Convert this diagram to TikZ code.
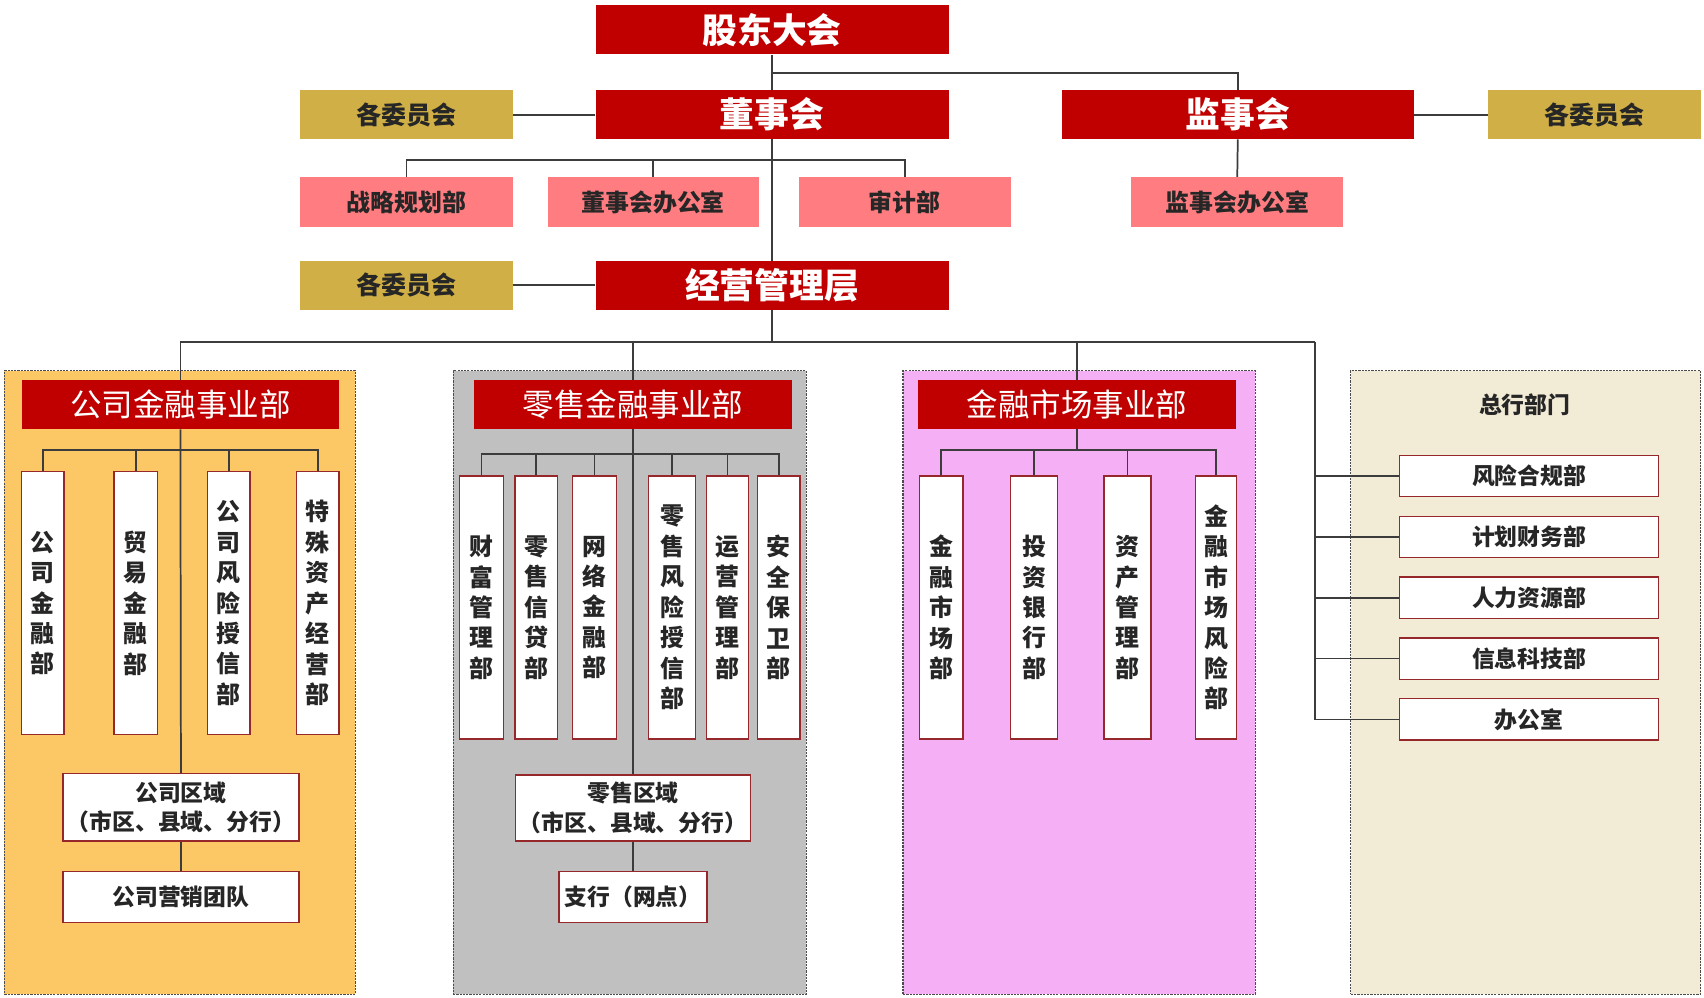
\documentclass[tikz,border=0pt]{standalone}
\usepackage{fontspec}
\setmainfont{Noto Sans CJK SC}
\definecolor{dred}{RGB}{192,0,0}
\definecolor{gold}{RGB}{208,176,70}
\definecolor{pinkbox}{RGB}{255,124,128}
\definecolor{orangefill}{RGB}{252,200,102}
\definecolor{grayfill}{RGB}{192,192,192}
\definecolor{magfill}{RGB}{245,176,245}
\definecolor{beigefill}{RGB}{242,235,214}
\definecolor{bxborder}{RGB}{150,40,44}
\definecolor{lnc}{RGB}{60,60,60}
\begin{document}
\begin{tikzpicture}[x=1pt,y=-1pt,
  topbox/.style={fill=dred,draw=none,text=white,font=\fontsize{32}{34}\selectfont\bfseries,inner sep=0pt},
  goldbox/.style={fill=gold,draw=none,text=black!85,font=\fontsize{23}{25}\selectfont\bfseries,inner sep=0pt,minimum width=196pt,minimum height=45pt},
  pinkb/.style={fill=pinkbox,draw=none,text=black!85,font=\fontsize{22}{24}\selectfont\bfseries,inner sep=0pt,minimum width=195pt,minimum height=46pt},
  secbox/.style={draw=black!70,dashed,dash pattern=on 2pt off 1pt,line width=1.1pt},
  hdr/.style={fill=dred,draw=none,text=white,font=\fontsize{29}{31}\selectfont,inner sep=0pt,minimum height=45pt},
  vbox/.style={fill=white,draw=bxborder,line width=1.2pt,inner sep=0pt,minimum height=242pt,align=center,font=\fontsize{22}{28}\selectfont\bfseries,text=black!85},
  hbox/.style={fill=white,draw=bxborder,line width=1.2pt,inner sep=0pt,align=center,font=\fontsize{21}{27}\selectfont\bfseries,text=black!85},
  conn/.style={draw=lnc,line width=1.6pt}
]
\useasboundingbox (0,0) rectangle (1568,918);
\fill[white] (0,0) rectangle (1568,918);

% sections
\node[secbox,fill=orangefill,minimum width=323pt,minimum height=574pt,inner sep=0pt] (secA) at (165.5,628) {};
\node[secbox,fill=grayfill,minimum width=325pt,minimum height=574pt,inner sep=0pt] (secB) at (579.5,628) {};
\node[secbox,fill=magfill,minimum width=324pt,minimum height=574pt,inner sep=0pt] (secC) at (993,628) {};
\node[secbox,fill=beigefill,minimum width=322pt,minimum height=574pt,inner sep=0pt] (secD) at (1404,628) {};

% top level
\node[topbox,minimum width=325pt,minimum height=45pt] (gd) at (710.5,27.5) {股东大会};
\node[topbox,minimum width=325pt,minimum height=45pt] (dsh) at (710.5,105.5) {董事会};
\node[topbox,minimum width=324pt,minimum height=45pt] (jsh) at (1139,105.5) {监事会};
\node[goldbox] (wyL1) at (374,105.5) {各委员会};
\node[goldbox] (wyR) at (1467,105.5) {各委员会};
\node[pinkb,minimum width=196pt] (zl) at (374,186) {战略规划部};
\node[pinkb,minimum width=194pt] (dsb) at (601,186) {董事会办公室};
\node[pinkb] (sj) at (832.5,186) {审计部};
\node[pinkb] (jsb) at (1138.5,186) {监事会办公室};
\node[topbox,minimum width=325pt,minimum height=45pt] (jy) at (710.5,262.5) {经营管理层};
\node[goldbox] (wyL2) at (374,262.5) {各委员会};

% headers
\node[hdr,minimum width=292pt] (hA) at (166,372.5) {公司金融事业部};
\node[hdr,minimum width=293pt] (hB) at (582.5,372.5) {零售金融事业部};
\node[hdr,minimum width=292pt] (hC) at (991,372.5) {金融市场事业部};
\node[font=\fontsize{21}{23}\selectfont\bfseries,text=black!85] (hD) at (1403,372) {总行部门};

% A subs
\node[vbox,minimum width=39pt] (a1) at (39.5,555) {公\\司\\金\\融\\部};
\node[vbox,minimum width=40pt] (a2) at (125,555) {贸\\易\\金\\融\\部};
\node[vbox,minimum width=39pt] (a3) at (210.5,555) {公\\司\\风\\险\\授\\信\\部};
\node[vbox,minimum width=39pt] (a4) at (292.5,555) {特\\殊\\资\\产\\经\\营\\部};
\node[hbox,minimum width=217pt,minimum height=62pt] (aR) at (166.5,743) {公司区域\\（市区、县域、分行）};
\node[hbox,minimum width=217pt,minimum height=47pt] (aT) at (166.5,825.5) {公司营销团队};

% B subs
\node[vbox,minimum width=40pt] (b1) at (443,559) {财\\富\\管\\理\\部};
\node[vbox,minimum width=39pt] (b2) at (493.5,559) {零\\售\\信\\贷\\部};
\node[vbox,minimum width=40pt] (b3) at (547,559) {网\\络\\金\\融\\部};
\node[vbox,minimum width=43pt] (b4) at (618.5,559) {零\\售\\风\\险\\授\\信\\部};
\node[vbox,minimum width=39pt] (b5) at (669.5,559) {运\\营\\管\\理\\部};
\node[vbox,minimum width=39pt] (b6) at (716.5,559) {安\\全\\保\\卫\\部};
\node[hbox,minimum width=216pt,minimum height=61pt] (bR) at (582.5,743.5) {零售区域\\（市区、县域、分行）};
\node[hbox,minimum width=136pt,minimum height=47pt] (bT) at (582.5,825.5) {支行（网点）};

% C subs
\node[vbox,minimum width=40pt] (c1) at (866,559) {金\\融\\市\\场\\部};
\node[vbox,minimum width=43pt] (c2) at (951.5,559) {投\\资\\银\\行\\部};
\node[vbox,minimum width=43pt] (c3) at (1037.5,559) {资\\产\\管\\理\\部};
\node[vbox,minimum width=38pt] (c4) at (1119,559) {金\\融\\市\\场\\风\\险\\部};

% D subs
\node[hbox,minimum width=238pt,minimum height=38pt] (d1) at (1407,438) {风险合规部};
\node[hbox,minimum width=238pt,minimum height=38pt] (d2) at (1407,494) {计划财务部};
\node[hbox,minimum width=238pt,minimum height=38pt] (d3) at (1407,550) {人力资源部};
\node[hbox,minimum width=238pt,minimum height=38pt] (d4) at (1407,606) {信息科技部};
\node[hbox,minimum width=238pt,minimum height=38pt] (d5) at (1407,662) {办公室};

% coordinates
\coordinate (gdbus) at (710.5,67);
\coordinate (dbus) at (710.5,147);
\coordinate (bus) at (710.5,315);
\coordinate (dv) at (1210,315);
\coordinate (aBus) at (166,414);
\coordinate (bBus) at (582.5,418);
\coordinate (cBus) at (991,414);

% top connectors
\draw[conn] (gd.south) -- (dsh.north);
\draw[conn] (gdbus) -| (jsh.north);
\draw[conn] (dsh.west) -- (wyL1.east);
\draw[conn] (jsh.east) -- (wyR.west);
\draw[conn] (dsh.south) -- (jy.north);
\draw[conn] (zl.north) |- (dbus);
\draw[conn] (sj.north) |- (dbus);
\draw[conn] (dsb.north) -- (dsb.north |- dbus);
\draw[conn] (jsh.south) -- (jsb.north);
\draw[conn] (jy.west) -- (wyL2.east);
% level to divisions
\draw[conn] (jy.south) -- (bus);
\draw[conn] (hA.north) |- (bus);
\draw[conn] (hB.north) |- (bus);
\draw[conn] (hC.north) |- (bus);
\draw[conn] (bus) -- (dv);
\draw[conn] (d1.west) -| (dv);
\draw[conn] (d2.west) -| (dv);
\draw[conn] (d3.west) -| (dv);
\draw[conn] (d4.west) -| (dv);
\draw[conn] (d5.west) -| (dv);
% A
\draw[conn] (hA.south) -- (aR.north);
\draw[conn] (aR.south) -- (aT.north);
\draw[conn] (a1.north) |- (aBus);
\draw[conn] (a4.north) |- (aBus);
\draw[conn] (a2.north) -- (a2.north |- aBus);
\draw[conn] (a3.north) -- (a3.north |- aBus);
% B
\draw[conn] (hB.south) -- (bR.north);
\draw[conn] (bR.south) -- (bT.north);
\draw[conn] (b1.north) |- (bBus);
\draw[conn] (b6.north) |- (bBus);
\draw[conn] (b2.north) -- (b2.north |- bBus);
\draw[conn] (b3.north) -- (b3.north |- bBus);
\draw[conn] (b4.north) -- (b4.north |- bBus);
\draw[conn] (b5.north) -- (b5.north |- bBus);
% C
\draw[conn] (hC.south) -- (cBus);
\draw[conn] (c1.north) |- (cBus);
\draw[conn] (c4.north) |- (cBus);
\draw[conn] (c2.north) -- (c2.north |- cBus);
\draw[conn] (c3.north) -- (c3.north |- cBus);
\end{tikzpicture}
\end{document}
